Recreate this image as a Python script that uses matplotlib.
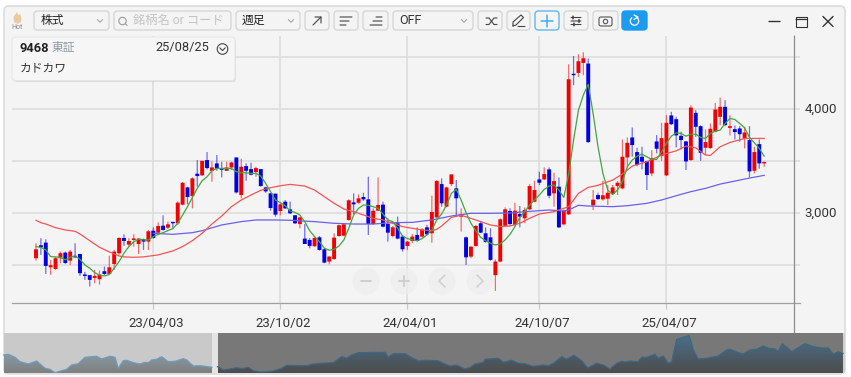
import numpy as np
import matplotlib
matplotlib.use('Agg')
import matplotlib.pyplot as plt
from matplotlib.patches import FancyBboxPatch, Rectangle, Circle, Polygon

plt.rcParams['font.family'] = ['Roboto', 'Noto Sans CJK JP', 'DejaVu Sans']

# weekly candles
opens = [2565, 2690, 2715, 2478, 2462, 2565, 2619, 2542, 2587, 2606, 2405, 2402, 2376, 2363, 2440, 2414, 2510, 2613,
         2760, 2696, 2741, 2702, 2747, 2725, 2830, 2811, 2878, 2859, 2910, 2901, 3080, 3246, 3163, 3378, 3362, 3509,
         3406, 3477, 3432, 3406, 3438, 3534, 3173, 3451, 3422, 3394, 3422, 3246, 3189, 3186, 3019, 3109,
         3035, 2978, 2894, 2754, 2741, 2680, 2766, 2651, 2533, 2558, 2779, 2782, 2933, 3102, 3099, 3154, 3131, 2894,
         3022, 3080, 2894, 2779, 2901, 2773, 2683, 2731, 2789, 2773, 2862, 2805, 2958, 3278, 3061, 3278, 3237, 2965,
         2766, 2581, 2683, 2901, 2805, 2766, 2402, 2533, 2878, 3019, 2885, 2990, 2949, 3035, 3109, 3323, 3323,
         3419, 3189, 3253, 2891, 2987, 4338, 4347, 4443, 4437, 3074, 3173, 3131, 3138, 3182, 3259, 3237, 3534, 3726,
         3586, 3541, 3499, 3381, 3688, 3547, 3362, 3938, 3902, 3742, 3688, 3509, 3963, 3835, 3627, 3624, 3781, 3925,
         4021, 3819, 3806, 3813, 3717, 3701, 3406, 3662, 3477]
highs = [2709, 2757, 2747, 2549, 2581, 2629, 2629, 2645, 2709, 2606, 2434, 2405, 2453, 2446, 2485, 2590, 2645, 2766,
         2795, 2757, 2795, 2760, 2754, 2837, 2862, 2910, 2978, 2917, 2914, 3112, 3298, 3253, 3342, 3509, 3502, 3586,
         3496, 3557, 3493, 3493, 3493, 3534, 3522, 3477, 3483, 3445, 3422, 3253, 3189, 3186, 3093, 3125,
         3109, 2981, 2965, 2894, 2757, 2766, 2779, 2658, 2587, 2805, 2888, 2898, 3131, 3189, 3179, 3195, 3349, 3045,
         3342, 3109, 2949, 2875, 2965, 2789, 2731, 2798, 2862, 2853, 2885, 3166, 3317, 3333, 3253, 3371, 3317, 3045,
         2773, 2677, 2885, 2917, 2862, 2853, 2555, 2949, 3054, 3045, 3099, 3067, 3054, 3278, 3310, 3397, 3438,
         3438, 3387, 3342, 3035, 4430, 4510, 4526, 4546, 4485, 3221, 3195, 3310, 3269, 3269, 3307, 3707, 3726, 3822,
         3627, 3637, 3502, 3605, 3749, 3867, 3941, 3973, 3925, 3781, 3694, 4037, 3989, 3842, 3803, 3861, 4059, 4110,
         4085, 3941, 3842, 3835, 3829, 3835, 3637, 3707, 3493]
lows = [2542, 2597, 2414, 2405, 2453, 2517, 2510, 2501, 2565, 2395, 2357, 2293, 2325, 2312, 2405, 2408, 2453, 2597,
        2683, 2677, 2677, 2606, 2645, 2645, 2754, 2798, 2830, 2846, 2853, 2885, 3074, 3083, 3045, 3253, 3355, 3419,
        3301, 3406, 3342, 3406, 3413, 3189, 3141, 3310, 3362, 3349, 3253, 3195, 3022, 2965, 2978, 3038,
        2990, 2894, 2853, 2702, 2661, 2677, 2638, 2517, 2507, 2549, 2773, 2776, 2926, 2990, 3086, 3118, 2789, 2885,
        3022, 2862, 2725, 2766, 2747, 2629, 2645, 2709, 2725, 2766, 2789, 2715, 2949, 3061, 3054, 3259, 2981, 2821,
        2501, 2565, 2677, 2805, 2715, 2542, 2251, 2526, 2869, 2875, 2875, 2862, 2901, 3029, 3102, 3269, 3317,
        3141, 3061, 2856, 2882, 2981, 4229, 4309, 4325, 3675, 3029, 3125, 3118, 3077, 3173, 3173, 3227, 3445, 3541,
        3451, 3419, 3221, 3355, 3573, 3502, 3355, 3845, 3630, 3611, 3413, 3502, 3733, 3502, 3557, 3618, 3778, 3845,
        3835, 3746, 3707, 3685, 3621, 3342, 3381, 3426, 3445]
closes = [2651, 2670, 2491, 2498, 2565, 2613, 2520, 2629, 2574, 2421, 2395, 2357, 2395, 2408, 2414, 2478, 2629, 2760,
          2731, 2731, 2754, 2754, 2725, 2824, 2760, 2875, 2837, 2891, 2901, 3099, 3291, 3154, 3333, 3355, 3502, 3432,
          3438, 3426, 3416, 3438, 3486, 3198, 3445, 3406, 3368, 3432, 3259, 3208, 3048, 2984, 3083, 3045,
          2997, 2901, 2958, 2702, 2683, 2760, 2645, 2523, 2581, 2763, 2882, 2891, 3122, 3083, 3141, 3131, 2894, 3022,
          3077, 2869, 2811, 2862, 2754, 2651, 2725, 2773, 2731, 2843, 2795, 3010, 3307, 3093, 3246, 3371, 3141, 2987,
          2574, 2677, 2875, 2811, 2722, 2549, 2533, 2939, 3035, 2894, 3022, 2965, 3029, 3259, 3221, 3291, 3374,
          3166, 3307, 2862, 3022, 4286, 4325, 4459, 4488, 3682, 3128, 3134, 3170, 3195, 3246, 3291, 3541, 3675, 3653,
          3461, 3493, 3365, 3528, 3618, 3720, 3867, 3854, 3746, 3701, 3496, 4014, 3829, 3579, 3682, 3810, 3995, 4021,
          3845, 3835, 3778, 3758, 3774, 3400, 3586, 3477, 3490]

# green line, one value per week
green_line = [2677, 2670, 2645, 2581, 2577, 2574, 2549, 2574, 2587, 2555, 2501, 2469, 2427, 2402, 2395, 2408, 2469, 2533,
              2613, 2677, 2722, 2747, 2741, 2741, 2773, 2795, 2811, 2830, 2850, 2901, 2981, 3061, 3150, 3237, 3310, 3349,
              3406, 3429, 3429, 3429, 3429, 3397, 3387, 3387, 3381, 3381, 3355, 3285, 3205, 3125, 3100, 3070,
              3019, 3006, 2981, 2917, 2830, 2773, 2725, 2661, 2642, 2651, 2683, 2741, 2853, 2981, 3045, 3077, 3074, 3061,
              3045, 2990, 2933, 2917, 2853, 2779, 2754, 2741, 2734, 2754, 2789, 2837, 2933, 2990, 3077, 3189, 3227, 3125,
              3003, 2901, 2830, 2766, 2734, 2709, 2693, 2702, 2741, 2795, 2869, 2958, 3013, 3077, 3125, 3173, 3227,
              3259, 3269, 3221, 3150, 3374, 3701, 3989, 4133, 4238, 3957, 3637, 3381, 3221, 3179, 3221, 3301, 3445, 3509,
              3547, 3566, 3541, 3515, 3515, 3589, 3669, 3739, 3771, 3765, 3739, 3758, 3758, 3726, 3717, 3765, 3787, 3797,
              3861, 3909, 3899, 3861, 3819, 3726, 3675, 3621, 3547]

# red and blue lines, read at some weeks
red_weeks = [0, 1, 2, 4, 6, 8, 9, 11, 13, 15, 17, 18, 20, 22, 25, 28, 30, 32, 34, 36, 38, 40, 42, 44, 46, 48, 50, 52,
             55, 57, 59, 61, 63, 65, 67, 69, 71, 73, 75, 77, 79, 81, 82, 83, 85, 87, 89, 91, 93, 95, 97, 99, 101, 103,
             106, 109, 111, 113, 115, 118, 120, 122, 125, 128, 131, 133, 135, 137, 138, 140, 142, 145, 149]
red_line = [2930, 2907, 2894, 2859, 2837, 2824, 2798, 2734, 2670, 2626, 2587, 2578, 2574, 2578, 2597, 2635, 2677, 2734,
            2805, 2894, 2971, 3061, 3125, 3173, 3218, 3243, 3262, 3275,
            3259, 3221, 3157, 3093, 3038, 3013, 2981, 2949, 2933, 2901, 2869, 2853, 2837, 2830, 2843, 2875, 2958, 2978,
            2949, 2917, 2885, 2869, 2875, 2901, 2949, 2990,
            3013, 3061, 3189, 3246, 3266, 3317, 3374, 3451, 3493, 3557, 3598, 3643, 3627, 3557, 3554, 3637, 3678, 3717, 3717]
blue_weeks = [24, 28, 32, 34, 38, 42, 45, 49, 52, 57, 61, 65, 69, 73, 77, 81, 85, 89, 93, 97, 101, 105,
              108, 109, 111, 113, 118, 121, 125, 128, 131, 134, 137, 140, 143, 146, 149]
blue_line = [2805, 2795, 2811, 2830, 2885, 2917, 2933, 2933, 2930, 2917, 2901, 2894, 2894, 2907, 2910, 2933, 2971, 2997,
             2997, 3000, 3016, 3029, 3019, 3029, 3074, 3067, 3061, 3070, 3093, 3125, 3166, 3205, 3237, 3278, 3307, 3336, 3362]

date_weeks = [24, 50, 76, 103, 129]
date_labels = ['23/04/03', '23/10/02', '24/04/01', '24/10/07', '25/04/07']
grid_prices = [2500, 3000, 3500, 4000, 4500]
price_labels = ['', '3,000', '', '4,000', '']

# overview strip at the bottom
overview_pos = [4, 8.3, 15, 20, 28.3, 36.7, 45, 50, 55, 61.7, 66.7, 71.7, 78.3, 85, 96.7, 101.7, 110, 115, 118.3, 123.3,
                126.7, 133.3, 140, 145, 148.3, 151.7, 156.7, 161.7, 168.3, 175, 183.3, 186.7, 193.3, 200, 205, 211.7,
                218.3, 223.3, 230, 236.7, 241.7, 248.3, 253.3, 261.7, 273.3, 281.7, 286.7, 306.7, 311.7, 320, 333.3,
                341.7, 346.7, 351.7, 358.3, 385, 388.3, 393.3, 405, 410, 418.3, 425,
                438.3, 443.3, 450, 456.7, 465, 470, 475, 483.3, 485, 498.3, 503.3, 511.7, 518.3, 525, 533.3, 543.3, 548.3,
                553.3, 561.7, 566.7, 574, 581.7, 587.7, 596.7, 603.3, 610, 616.7, 621.7, 625, 630, 638.3, 641.7, 646.7,
                655, 658.3, 663.3, 668.3, 671.7, 676.7, 689.3, 693.3, 698.3, 706.7, 718.3, 726.7, 730, 738.3, 743.3, 750,
                756.7, 763.3, 768.3, 775, 778.3, 782.3, 791.7, 805, 813.3, 821.7, 828.3, 833.3, 838.3, 842.3]
overview_vals = [18, 18.7, 15.7, 11.3, 9, 12, 4.7, 3.7, 0.3, 2.3, 3.7, 8, 9.3, 15.7, 16.7, 14, 16.7, 15.7, 4.7, 12.3,
                 12.7, 10.3, 9, 10.7, 10.3, 13, 13.7, 16.3, 11.3, 11.7, 14.3, 13, 7, 7.3, 6.7, 5.7,
                 6.3, 3, 4, 5.3, 4.3, 5.7, 2.3, 1, 2, 4.7, 7.7, 7.3, 8.7, 9.7, 10.3,
                 16.3, 14.7, 18, 20.3, 20.7, 15.7, 19.3, 19.3, 16.3, 12, 12.7,
                 12.3, 9.7, 7, 8, 4, 5.3, 9, 10.7, 13.7, 14.7, 10.7, 12.7, 9.7, 9.3, 6.7, 8, 7.3,
                 9.7, 16.3, 13.7, 17.7, 12.3, 5, 9.7, 8, 4, 9.7, 11.7, 11, 12, 11.3, 15.7, 15.7,
                 18.7, 14.7, 17, 9.7, 11.3, 33.7, 37.3, 23, 14, 14.7, 17, 23, 23.7, 20.3, 19, 23,
                 23.7, 27, 24.7, 24, 21.3, 29.3, 21.3, 29.3, 26.3, 25, 25, 18.7, 21.3, 19.7]

W, H = 851, 377
fig = plt.figure(figsize=(W / 100, H / 100), dpi=100, facecolor='#ffffff')


def box(left, top, right, bottom):
    return [left / W, 1 - bottom / H, (right - left) / W, (bottom - top) / H]


# whole picture in pixels, for the window and toolbar
bg = fig.add_axes([0, 0, 1, 1], zorder=0)
bg.set_xlim(0, W)
bg.set_ylim(H, 0)
bg.axis('off')
bg.add_patch(FancyBboxPatch((4, 6), 841, 368, boxstyle='round,pad=0,rounding_size=5',
                            fc='#f4f4f4', ec='#dcdcdc', lw=1.2))

# price chart
ax = fig.add_axes(box(12, 36, 800, 303), zorder=1)
ax.patch.set_alpha(0)
ax.set_xlim((12 - 36) / 4.887, (800 - 36) / 4.887)
ax.set_ylim(3000 + (213 - 303) / 0.104, 3000 + (213 - 36) / 0.104)
ax.set_yticks(grid_prices)
ax.set_yticklabels([])
ax.set_xticks(date_weeks)
ax.set_xticklabels([])
ax.grid(True, color='#dddddd', lw=1.2)
ax.set_axisbelow(True)
ax.tick_params(axis='x', length=4.5, color='#c8c8c8', width=0.9)
ax.tick_params(axis='y', length=0)
for side in ['top', 'left', 'right']:
    ax.spines[side].set_visible(False)
ax.spines['bottom'].set_color('#a0a0a0')
ax.spines['bottom'].set_linewidth(0.9)

weeks = np.arange(len(closes))
o = np.array(opens)
c = np.array(closes)
colors = ['#f00000' if c[i] >= o[i] else '#0000e0' for i in weeks]
wicks = ax.vlines(weeks, lows, highs, colors=colors, lw=0.9, alpha=0.55, zorder=3)
wicks.set_snap(False)
bars = ax.bar(weeks, np.maximum(np.abs(c - o), 14), bottom=np.minimum(o, c), width=0.8, color=colors, lw=0, zorder=4)
for b in bars:
    b.set_snap(False)
ax.plot(blue_weeks, blue_line, color='#6a60ea', lw=0.9, zorder=5)
ax.plot(red_weeks, red_line, color='#f25555', lw=0.9, zorder=5)
ax.plot(weeks, green_line, color='#43a543', lw=0.9, zorder=6)

for w, t in zip(date_weeks, date_labels):
    ax.annotate(t, (w, 0), xycoords=('data', 'axes fraction'), xytext=(3, -14), textcoords='offset pixels',
                ha='center', va='top', fontsize=9.5, color='#333333')
for p, t in zip(grid_prices, price_labels):
    if t:
        bg.text(821, 213 - (p - 3000) * 0.104, t, ha='center', va='center', fontsize=9.5, color='#333333', zorder=8)

# overview
mini = fig.add_axes(box(0, 333, W, 373), zorder=2)
mini.set_xlim(0, W)
mini.set_ylim(0, 40)
mini.axis('off')
mini.add_patch(Rectangle((3.5, 0), 208.5, 40, fc='#c9c9c9', lw=0))
mini.add_patch(Rectangle((212, 0), 5.5, 40, fc='#e4e4e4', lw=0))
mini.add_patch(Rectangle((217.5, 0), 625, 40, fc='#787878', lw=0))
mini.add_patch(Rectangle((843, 0), 2, 40, fc='#cfcfcf', lw=0))


def gradient_area(x0, x1, top, bottom, line):
    gx = np.interp([x0, x1], overview_pos, overview_vals)
    pos = [x0] + [x for x in overview_pos if x0 < x < x1] + [x1]
    val = [gx[0]] + [v for x, v in zip(overview_pos, overview_vals) if x0 < x < x1] + [gx[1]]
    grad = np.linspace(0, 1, 64)[:, None, None] * (np.array(bottom) - np.array(top)) + np.array(top)
    im = mini.imshow(grad, extent=(x0, x1, 0, 38), origin='upper', aspect='auto', zorder=2)
    poly = Polygon(list(zip(pos, val)) + [(x1, 0), (x0, 0)], closed=True, transform=mini.transData, fc='none', lw=0)
    mini.add_patch(poly)
    im.set_clip_path(poly)
    mini.plot(pos, val, color=line, lw=0.9, zorder=3)


gradient_area(3.5, 212, (0.56, 0.71, 0.80), (0.50, 0.50, 0.50), '#6d9dbb')
gradient_area(217.5, 843, (0.29, 0.44, 0.54), (0.30, 0.30, 0.30), '#3d6782')
mini.set_xlim(0, W)
mini.set_ylim(0, 40)

# toolbar and widgets on top
ui = fig.add_axes([0, 0, 1, 1], zorder=3)
ui.set_xlim(0, W)
ui.set_ylim(H, 0)
ui.axis('off')
ui.patch.set_alpha(0)


def button(x0, x1, y0=11, y1=30, fc='#f4f4f4', ec='#d6d6d6'):
    ui.add_patch(FancyBboxPatch((x0, y0), x1 - x0, y1 - y0, boxstyle='round,pad=0,rounding_size=3.5', fc=fc, ec=ec, lw=1))


def chevron(x, y=21):
    ui.plot([x - 2.5, x, x + 2.5], [y - 1.3, y + 1.3, y - 1.3], color='#a8a8a8', lw=0.8)


def ink(xs, ys, color='#444444', lw=0.8):
    line, = ui.plot(xs, ys, color=color, lw=lw, solid_capstyle='round')
    line.set_snap(False)


# Hot
ui.add_patch(Polygon([(14, 22), (13.5, 17), (17, 12), (18, 15), (20, 14), (21.5, 18), (21, 22), (17.5, 24)],
                     closed=True, fc='#ecc9a0', lw=0))
ui.text(17.5, 27.5, 'Hot', ha='center', va='center', fontsize=5, color='#8a8a8a')

button(34, 109)
ui.text(41, 20.5, '株式', va='center', fontsize=8.5, color='#222222')
chevron(100)
button(114, 231)
ui.add_patch(Circle((122.5, 21), 3.7, fc='none', ec='#9a9a9a', lw=0.8))
ink([125.2, 127], [23.7, 25.5], '#9a9a9a', 0.8)
ui.text(133, 20.5, '銘柄名 or コード', va='center', fontsize=8.8, color='#c4c4c4')
button(236, 300)
ui.text(242, 20.5, '週足', va='center', fontsize=8.5, color='#222222')
chevron(291)
button(305, 329)
ink([313, 321], [25, 17])
ink([315, 321, 321], [17, 17, 23])
button(334, 358)
ink([340, 352], [17, 17])
ink([340, 349], [21, 21])
ink([340, 346], [25, 25])
button(363, 388)
ink([370, 382], [25, 25])
ink([373, 382], [21, 21])
ink([376, 382], [17, 17])
button(393, 473)
ui.text(399, 20.5, 'OFF', va='center', fontsize=9, color='#333333')
chevron(464)
button(478, 502)
ink([486, 489, 494, 497], [18, 18, 24.5, 24.5])
ink([486, 489, 494, 497], [24.5, 24.5, 18, 18])
button(507, 530)
ink([513, 513, 521, 523.5, 516, 513], [26, 22, 15, 17.5, 25, 26])
ink([518, 525], [26.5, 26.5])
button(535, 559, ec='#62b6f0')
ink([547, 547], [15, 27], '#3ba3ec', 1.0)
ink([541, 553], [21, 21], '#3ba3ec', 1.0)
button(564, 588)
for yy, xx in [(17.5, 573), (21, 579), (24.5, 574)]:
    ink([571, 581], [yy, yy])
    ink([xx, xx], [yy - 1.2, yy + 1.2], lw=1.2)
button(593, 618)
ui.add_patch(FancyBboxPatch((599, 17), 13, 9, boxstyle='round,pad=0,rounding_size=2', fc='none', ec='#555555', lw=0.8))
ui.add_patch(Circle((605.5, 21.5), 2.2, fc='none', ec='#555555', lw=0.8))
button(622, 647, fc='#1b9cf0', ec='#1b9cf0')
theta = np.radians(np.arange(-70, 240, 15))
ink(634.5 + 4.2 * np.cos(theta), 21 + 4.2 * np.sin(theta), '#ffffff', 0.9)
ink([634, 638, 634], [15, 17, 19.5], '#ffffff', 0.9)

# window buttons
ink([769, 780], [21.5, 21.5], '#333333', 1.0)
ui.add_patch(Rectangle((796, 17), 10.5, 10, fc='none', ec='#333333', lw=0.8))
ink([796, 806.5], [19.5, 19.5], '#333333', 0.9)
ink([823, 833], [16.5, 26.5], '#333333', 1.0)
ink([823, 833], [26.5, 16.5], '#333333', 1.0)

# price axis line
ink([794.5, 794.5], [36, 333], '#8c8c8c', 0.9)

# info box
ui.add_patch(FancyBboxPatch((13, 39), 223, 43, boxstyle='round,pad=0,rounding_size=3.5', fc='#d0d0d0', ec='none', alpha=0.6))
ui.add_patch(FancyBboxPatch((12, 37), 223, 43.5, boxstyle='round,pad=0,rounding_size=3.5', fc='#f6f6f6', ec='#e4e4e4', lw=0.6))
ui.text(20, 48, '9468', va='center', fontsize=9.3, fontweight='bold', color='#222222')
ui.text(52, 48, '東証', va='center', fontsize=8.5, color='#8f9aa3')
ui.text(209, 48, '25/08/25', ha='right', va='center', fontsize=9.3, color='#333333')
ui.add_patch(Circle((222.5, 49), 5.3, fc='none', ec='#444444', lw=0.8))
ink([219.8, 222.5, 225.2], [47.8, 50.6, 47.8], '#444444', 0.8)
ui.text(20, 68, 'カドカワ', va='center', fontsize=8.5, color='#333333')

# navigation buttons under the chart
for x, g in zip([366, 404, 442, 480], ['minus', 'plus', 'left', 'right']):
    ui.add_patch(Circle((x, 281), 13.5, fc='#eeeeee', ec='none', alpha=0.75))
    if g == 'minus' or g == 'plus':
        ink([x - 5, x + 5], [281, 281], '#cfcfcf', 1.4)
    if g == 'plus':
        ink([x, x], [276, 286], '#cfcfcf', 1.4)
    if g == 'left':
        ink([x + 3, x - 3, x + 3], [275, 281, 287], '#d2d2d2', 1.2)
    if g == 'right':
        ink([x - 3, x + 3, x - 3], [275, 281, 287], '#d2d2d2', 1.2)

fig.savefig('out.png', dpi=100)
